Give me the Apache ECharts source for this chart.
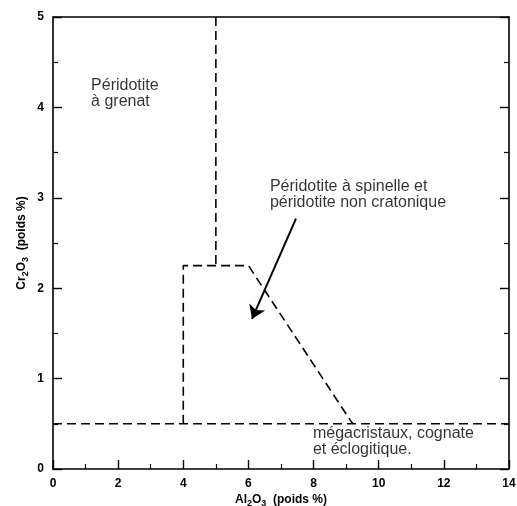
<!DOCTYPE html>
<html>
<head>
<meta charset="utf-8">
<script src="https://cdn.jsdelivr.net/npm/echarts@6/dist/echarts.min.js"></script>
<style>
  html, body { margin: 0; padding: 0; background: #fff; }
  #chart { width: 517px; height: 506px; }
</style>
</head>
<body>
<div id="chart"></div>
<script>
// Field boundaries (Al2O3 wt%, Cr2O3 wt%)
const garnetBoundary = [[5, 5], [5, 2.25]];
const spinelBoundary = [[4, 0.5], [4, 2.25], [6, 2.25], [9.2, 0.5]];
const megacrystBoundary = [[0, 0.5], [14, 0.5]];

// Arrow pointing into the spinel field
const arrowPath = [[7.46, 2.77], [6.11, 1.66]];

// Field labels: anchor [x, y] and text
const fieldLabels = [
  { pos: [1.17, 4.15], text: 'Péridotite\nà grenat' },
  { pos: [6.66, 3.04], text: 'Péridotite à spinelle et\npéridotite non cratonique' },
  { pos: [7.98, 0.30], text: 'mégacristaux, cognate\net éclogitique.' }
];

const xRange = [0, 14];
const yRange = [0, 5];

const chart = echarts.init(document.getElementById('chart'), null, { renderer: 'canvas' });

const ink = '#000';
const dash = { color: ink, width: 1.6, type: [9, 5] };
const labelFont = 'Liberation Sans, Arial, sans-serif';

function boundary(data) {
  return {
    type: 'line',
    data: data,
    xAxisIndex: 0,
    yAxisIndex: 0,
    symbol: 'none',
    lineStyle: dash,
    silent: true,
    z: 3
  };
}

const nameRich = {
  a: { fontSize: 12, fontWeight: 'bold', fontFamily: labelFont, color: ink, lineHeight: 17 },
  s: { fontSize: 9, fontWeight: 'bold', fontFamily: labelFont, color: ink, lineHeight: 17, verticalAlign: 'bottom', padding: [5, 0, 0, 0] }
};

const option = {
  animation: false,
  backgroundColor: '#fff',
  grid: { left: 53, top: 17, width: 456, height: 452, containLabel: false, outerBoundsMode: 'none' },
  xAxis: [
    {
      type: 'value', position: 'bottom', min: xRange[0], max: xRange[1], interval: 2,
      axisLine: { show: true, onZero: false, lineStyle: { color: ink, width: 1.6 } },
      axisTick: { show: true, inside: true, length: 9, lineStyle: { color: ink, width: 1.4 } },
      minorTick: { show: true, splitNumber: 2, length: 5, lineStyle: { color: ink, width: 1.2 } },
      splitLine: { show: false },
      axisLabel: { color: ink, fontSize: 12, fontWeight: 'bold', fontFamily: labelFont, margin: 9 },
      name: '{a|Al}{s|2}{a|O}{s|3}{a|  (poids %)}',
      nameLocation: 'middle', nameGap: 22, nameMoveOverlap: false,
      nameTextStyle: { rich: nameRich }
    },
    {
      type: 'value', position: 'top', min: xRange[0], max: xRange[1],
      axisLine: { show: true, onZero: false, lineStyle: { color: ink, width: 1.6 } },
      axisTick: { show: false }, axisLabel: { show: false }, splitLine: { show: false }
    }
  ],
  yAxis: [
    {
      type: 'value', position: 'left', min: yRange[0], max: yRange[1], interval: 1,
      axisLine: { show: true, onZero: false, lineStyle: { color: ink, width: 1.6 } },
      axisTick: { show: true, inside: true, length: 9, lineStyle: { color: ink, width: 1.4 } },
      minorTick: { show: true, splitNumber: 2, length: 5, lineStyle: { color: ink, width: 1.2 } },
      splitLine: { show: false },
      axisLabel: { color: ink, fontSize: 12, fontWeight: 'bold', fontFamily: labelFont, margin: 9 },
      name: '{a|Cr}{s|2}{a|O}{s|3}{a|  (poids %)}',
      nameLocation: 'middle', nameGap: 23, nameRotate: 90, nameMoveOverlap: false,
      nameTextStyle: { rich: nameRich }
    },
    {
      type: 'value', position: 'right', min: yRange[0], max: yRange[1], interval: 1,
      axisLine: { show: true, onZero: false, lineStyle: { color: ink, width: 1.6 } },
      axisTick: { show: true, inside: true, length: 9, lineStyle: { color: ink, width: 1.4 } },
      minorTick: { show: true, splitNumber: 2, length: 5, lineStyle: { color: ink, width: 1.2 } },
      axisLabel: { show: false }, splitLine: { show: false }
    }
  ],
  series: [
    boundary(garnetBoundary),
    boundary(spinelBoundary),
    boundary(megacrystBoundary),
    {
      type: 'lines',
      coordinateSystem: 'cartesian2d',
      xAxisIndex: 0, yAxisIndex: 0,
      data: [{ coords: arrowPath }],
      symbol: ['none', 'arrow'],
      symbolSize: [0, 13],
      lineStyle: { color: ink, width: 2, opacity: 1 },
      silent: true,
      z: 4
    },
    {
      type: 'scatter',
      xAxisIndex: 0, yAxisIndex: 0,
      symbolSize: 0,
      silent: true,
      data: fieldLabels.map(d => ({ value: d.pos, name: d.text })),
      label: {
        show: true,
        position: 'right',
        distance: 0,
        align: 'left',
        verticalAlign: 'middle',
        formatter: p => p.name,
        color: ink,
        fontSize: 16,
        lineHeight: 16,
        fontFamily: labelFont
      },
      z: 5
    }
  ]
};

chart.setOption(option);
</script>
</body>
</html>
